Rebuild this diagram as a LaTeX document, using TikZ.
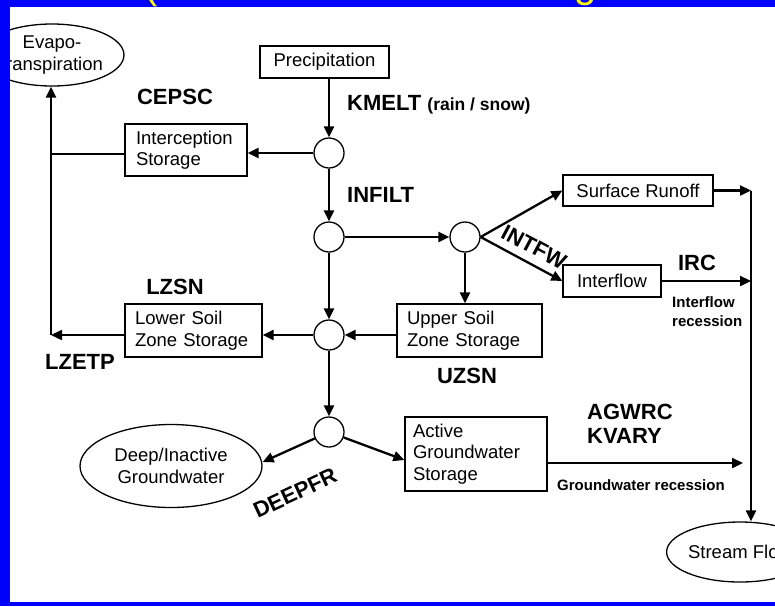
\documentclass[tikz,border=0pt]{standalone}
\usepackage{fontspec}
\setmainfont{Liberation Sans}
\usetikzlibrary{shapes.geometric,arrows.meta}
\definecolor{bluebg}{RGB}{0,0,255}
\definecolor{titleyellow}{RGB}{255,255,0}
\newcommand{\boxfont}{\fontsize{18.5}{21.5}\selectfont}
\newcommand{\lblfont}{\fontsize{22}{24}\selectfont\bfseries}
\newcommand{\smallbold}{\fontsize{15}{19}\selectfont\bfseries}
\begin{document}
\begin{tikzpicture}[x=1pt,y=-1pt,
  stbox/.style={draw, line width=1.3pt, inner sep=0pt, font=\boxfont, fill=white},
  junc/.style={draw, circle, line width=1.3pt, minimum size=30pt, inner sep=0pt, fill=white},
  oval/.style={draw, ellipse, line width=1.3pt, inner sep=0pt, font=\boxfont, align=center, fill=white},
  flow/.style={line width=2.3pt, -{Triangle[length=11pt,width=10pt]}},
  plain/.style={line width=2.3pt},
  lbl/.style={font=\lblfont, inner sep=0pt}
]
\useasboundingbox (0,0) rectangle (775,606);
\clip (0,0) rectangle (775,606);
\fill[bluebg] (0,0) rectangle (775,606);
\fill[white] (10,7) rectangle (775,602);

% nodes
\node[stbox, minimum width=129pt, minimum height=32pt] (prec) at (324.5,62) {Precipitation};
\node[oval, minimum width=132pt, minimum height=62pt] (evapo) at (52,55) {Evapo-\\transpiration};
\node[stbox, minimum height=52pt, inner xsep=11pt, text width=100pt, align=left] (icpt) at (186,150) {Interception\\Storage};
\node[junc] (c1) at (329,153) {};
\node[junc] (c2) at (329,237) {};
\node[junc] (c3) at (465,237) {};
\node[junc] (c4) at (329,335) {};
\node[junc] (c5) at (329,432) {};
\node[stbox, minimum width=150pt, minimum height=31pt] (surf) at (638,190.5) {Surface Runoff};
\node[stbox, minimum width=98pt, minimum height=32pt] (intf) at (612,281) {Interflow};
\node[stbox, minimum height=53pt, inner xsep=10pt, text width=125pt, align=left] (upper) at (469.5,330.5) {Upper Soil\\Zone Storage};
\node[stbox, minimum height=53pt, inner xsep=10pt, text width=117pt, align=left] (lower) at (193.5,330.5) {Lower Soil\\Zone Storage};
\node[oval, minimum width=182pt, minimum height=83pt] (deep) at (171,466) {Deep/Inactive\\Groundwater};
\node[stbox, minimum height=74pt, inner xsep=8pt, text width=126pt, align=left] (active) at (476,454) {Active\\Groundwater\\Storage};
\node[oval, minimum width=130pt, minimum height=60pt] (stream) at (740,552) {Stream Flow};

% helper coordinates
\coordinate (etj) at (51,154);
\coordinate (etc) at (51,335);
\coordinate (rj1) at (751,190.5);
\coordinate (rj2) at (751,281);
\coordinate (gwend) at (743,463);

% connectors
\draw[flow] (c1 |- prec.south) -- (c1);
\draw[flow] (c1) -- (c1 -| icpt.east);
\draw[plain] (icpt.west |- etj) -- (etj);
\draw[flow] (c1) -- (c2);
\draw[flow] (c2) -- (c3);
\draw[flow] (c3.east) -- (surf.west);
\draw[flow] (c3.east) -- (intf.west);
\draw[flow] (c3) -- (c3 |- upper.north);
\draw[flow] (surf.east) -- (rj1);
\draw[flow] (intf.east) -- (rj2);
\draw[plain] (rj1) -- (rj2);
\draw[flow] (rj1) -- (rj1 |- stream.north);
\draw[flow] (c4 -| upper.west) -- (c4);
\draw[flow] (c2) -- (c4);
\draw[flow] (c4) -- (c4 -| lower.east);
\draw[flow] (c4 -| lower.west) -- (etc);
\draw[flow] (etc) -- (etc |- evapo.south);
\draw[flow] (c4) -- (c5);
\draw[flow] (c5) -- ([yshift=4pt]deep.east);
\draw[flow] (c5) -- ([yshift=-6pt]active.west);
\draw[flow] (gwend -| active.east) -- (gwend);

% labels
\node[lbl] (cepsc) at (175,97) {CEPSC};
\node[lbl, anchor=west] (kmelt) at (347,105) {KMELT {\fontsize{17.5}{20}\selectfont\bfseries (rain / snow)}};
\node[lbl, anchor=west] (infilt) at (347,195) {INFILT};
\node[lbl, rotate=-28] (intfw) at (534,247) {INTFW};
\node[lbl] (irc) at (697,263) {IRC};
\node[font=\smallbold, align=left, anchor=west, inner sep=0pt] (irec) at (672,312) {Interflow\\recession};
\node[lbl] (lzsn) at (175,287) {LZSN};
\node[lbl] (lzetp) at (80,362) {LZETP};
\node[lbl] (uzsn) at (467,376) {UZSN};
\node[lbl, align=left, anchor=west] (agwrc) at (587,423.5) {AGWRC\\KVARY};
\node[font=\smallbold, anchor=west, inner sep=0pt] (gwrec) at (557,485) {Groundwater recession};
\node[lbl, rotate=25] (deepfr) at (295,493) {DEEPFR};

% frame strips over the diagram
\fill[bluebg] (0,0) rectangle (10,606);
\fill[bluebg] (0,0) rectangle (775,7);
\fill[bluebg] (0,602) rectangle (775,606);

% cut-off title fragments
\node[font=\fontsize{40}{44}\selectfont, text=titleyellow, anchor=base west, inner sep=0pt] (tparen) at (144,-2) {(};
\node[font=\fontsize{40}{44}\selectfont, text=titleyellow, anchor=base west, inner sep=0pt] (tg) at (574,-3) {g};
\end{tikzpicture}
\end{document}
